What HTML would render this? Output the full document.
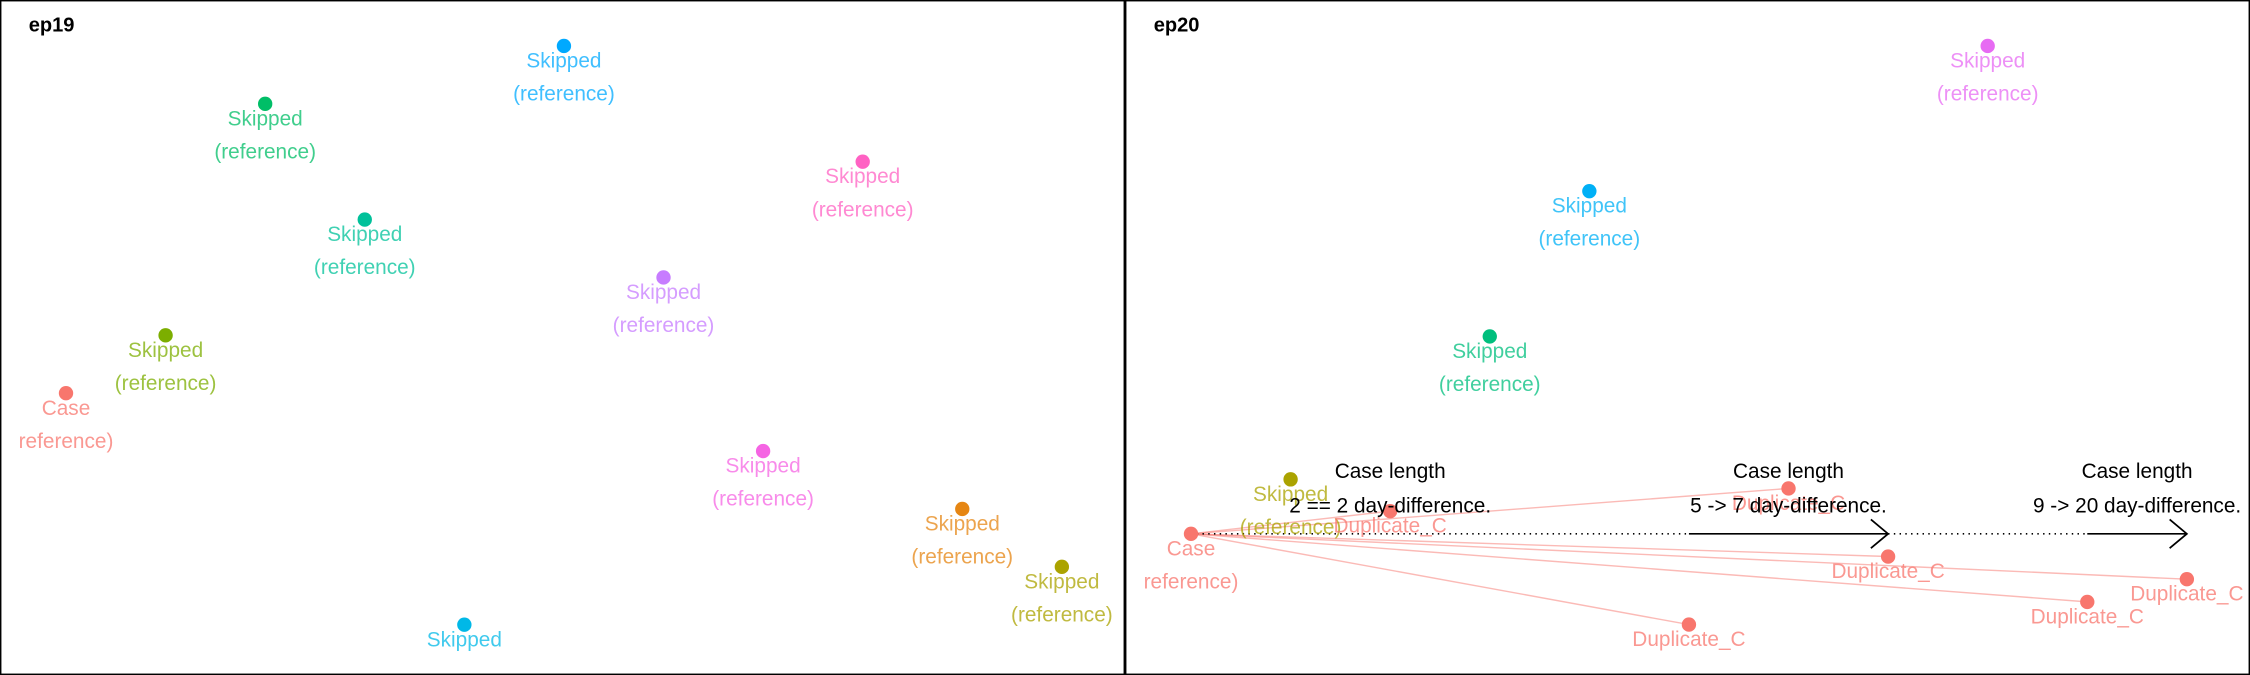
<!DOCTYPE html>
<html><head><meta charset="utf-8"><style>
html,body{margin:0;padding:0;background:#fff}
svg{display:block}
text{font-family:"Liberation Sans",sans-serif}
</style></head><body>
<svg id="chart" width="2250" height="675" viewBox="0 0 1568 470" preserveAspectRatio="none" xmlns="http://www.w3.org/2000/svg">
<rect x="0.5" y="0.5" width="783" height="469" fill="#fff" stroke="#000"/>
<rect x="784.5" y="0.5" width="783" height="469" fill="#fff" stroke="#000"/>
<text x="20" y="22" font-size="14" font-weight="bold">ep19</text>
<text x="804" y="22" font-size="14" font-weight="bold">ep20</text>
<defs><clipPath id="c2"><rect x="785" y="1" width="782" height="468"/></clipPath><clipPath id="c1"><rect x="1" y="1" width="782" height="468"/></clipPath></defs>
<g id="p1" clip-path="url(#c1)"></g>
<g id="p2" clip-path="url(#c2)"></g>
</svg>
<script>
// Panel ep19
const ep19Labels = ["Case","Skipped","Skipped","Skipped","Skipped","Skipped","Skipped","Skipped","Skipped","Skipped","Skipped"];
const ep19X = [0,1,2,3,4,5,6,7,8,9,10];
const ep19Y = [6,5,1,3,10,0,4,7,2,8,9];
const ep19Colors = ["#F8766D","#7CAE00","#00BE67","#00C19A","#00B8E7","#00A9FF","#C77CFF","#F564E3","#FF61C3","#E68613","#ABA300"];
const ep19Second = ["reference)","(reference)","(reference)","(reference)","","(reference)","(reference)","(reference)","(reference)","(reference)","(reference)"];
// Panel ep20
const ep20Labels = ["Case","Skipped","Skipped","Skipped","Skipped","Duplicate_C","Duplicate_C","Duplicate_C","Duplicate_C","Duplicate_C","Duplicate_C"];
const ep20X = [0,1,3,4,8,2,6,7,5,9,10];
const ep20Y = [21.5,19.1,12.8,6.4,0,20.5,19.5,22.5,25.5,24.5,23.5];
const ep20Colors = ["#F8766D","#ABA300","#00BF7D","#00B0F6","#E76BF3","#F8766D","#F8766D","#F8766D","#F8766D","#F8766D","#F8766D"];
const ep20Second = ["reference)","(reference)","(reference)","(reference)","(reference)","","","","","",""];
// Case-length annotations
const annTitle = ["Case length","Case length","Case length"];
const annText = ["2 == 2 day-difference.","5 -> 7 day-difference.","9 -> 20 day-difference."];
const annCenter = [2,6,9.5];
const arrowStart = [5,9];
const arrowEnd = [7,10];

const NS="http://www.w3.org/2000/svg";
function xs(i,off){return off+46+69.4*i;}
function y1(v){return 32+40.3*v;}
function y2(v){return 32+15.8*v;}
function mk(tag,attrs,parent){const e=document.createElementNS(NS,tag);for(const k in attrs)e.setAttribute(k,attrs[k]);parent.appendChild(e);return e;}
function pt(g,x,y,col,l1,l2){
  const c=mk('circle',{cx:x,cy:y,r:5,fill:col},g);
  
  
  const t=mk('text',{x:x,y:y+15,'font-size':14.5,'text-anchor':'middle',fill:col,'fill-opacity':0.75},g);
  t.textContent=l1;
  
  
  if(l2){const t2=mk('text',{x:x,y:y+38,'font-size':14.5,'text-anchor':'middle',fill:col,'fill-opacity':0.75},g);
  t2.textContent=l2;
  
  }
}
const p1=document.getElementById('p1'),p2=document.getElementById('p2');
for(let i=0;i<ep19X.length;i++){pt(p1,xs(ep19X[i],0),y1(ep19Y[i]),ep19Colors[i],ep19Labels[i],ep19Second[i]);}
const cx0=xs(ep20X[0],784),cy0=y2(ep20Y[0]);
for(let i=5;i<ep20X.length;i++){
  const l=mk('line',{x1:cx0,y1:cy0,x2:xs(ep20X[i],784),y2:y2(ep20Y[i]),stroke:'#F8766D','stroke-opacity':0.5,'stroke-width':1},p2);
  
  
}
let prev=0;
for(let k=0;k<arrowStart.length;k++){
  const xp=xs(prev,784), xa=xs(arrowStart[k],784), xb=xs(arrowEnd[k],784);
  const d=mk('line',{x1:xp,y1:cy0,x2:xa,y2:cy0,stroke:'#000','stroke-dasharray':'1,3','stroke-width':1.2},p2);
  
  
  const s=mk('path',{d:`M${xa},${cy0}H${xb}M${xb-12},${cy0-10}L${xb},${cy0}L${xb-12},${cy0+10}`,stroke:'#000',fill:'none','stroke-width':1.2},p2);
  
  
  prev=arrowEnd[k];
}
for(let i=0;i<ep20X.length;i++){pt(p2,xs(ep20X[i],784),y2(ep20Y[i]),ep20Colors[i],ep20Labels[i],ep20Second[i]);}
for(let k=0;k<annTitle.length;k++){
  const x=xs(annCenter[k],784);
  const a=mk('text',{x:x,y:333,'font-size':14.5,'text-anchor':'middle',fill:'#000'},p2);
  a.textContent=annTitle[k];
  
  
  const b=mk('text',{x:x,y:357,'font-size':14.5,'text-anchor':'middle',fill:'#000'},p2);
  b.textContent=annText[k];
  
  
}
</script>
</body></html>
